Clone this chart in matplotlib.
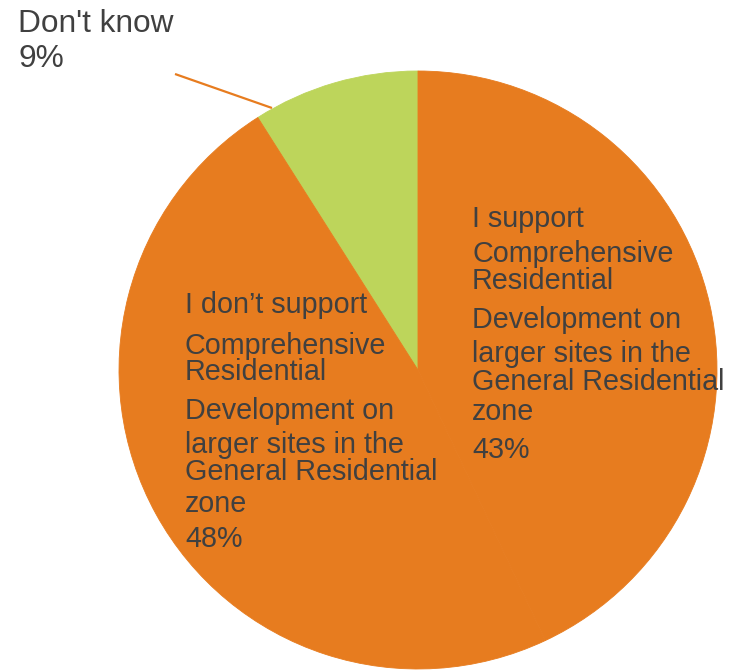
import matplotlib
matplotlib.use("Agg")
import matplotlib.pyplot as plt

plt.rcParams['font.family'] = ['Liberation Sans', 'DejaVu Sans']

# Survey answers (counter-clockwise from 12 o'clock)
categories = ["Don't know",
              "I don’t support Comprehensive Residential Development on larger sites in the General Residential zone",
              "I support Comprehensive Residential Development on larger sites in the General Residential zone"]
values = [9, 48, 43]
colors = ["#BDD55B", "#E77C1F", "#E77C1F"]

# Label text split into the lines as drawn
label_lines = {
    0: ["Don't know"],
    1: ["I don’t support", "Comprehensive", "Residential", "Development on",
        "larger sites in the", "General Residential", "zone"],
    2: ["I support", "Comprehensive", "Residential", "Development on",
        "larger sites in the", "General Residential", "zone"],
}

W, H = 734, 670
CX, CY, R = 418, 370, 299

fig = plt.figure(figsize=(W / 100, H / 100), dpi=100)
ax = fig.add_axes([(CX - R) / W, (H - CY - R) / H, 2 * R / W, 2 * R / H])

wedges, _ = ax.pie(values, colors=colors, startangle=90, counterclock=True,
                   radius=1)
for w, c in zip(wedges, colors):
    w.set_edgecolor(c)
    w.set_linewidth(0.6)
ax.set_xlim(-1, 1)
ax.set_ylim(-1, 1)
ax.set_aspect('equal')
ax.axis('off')


def px(x, y):
    """Pixel position (from top-left) to pie data coordinates."""
    return (x - CX) / R, (CY - y) / R


TXT = "#404040"
total = sum(values)


def pct(i):
    return f"{round(values[i] / total * 100):d}%"


# Right-hand label
right_base = [227, 262, 289, 328, 362, 390, 420, 458]
lines = label_lines[2] + [pct(2)]
for line, yb in zip(lines, right_base):
    x, y = px(472, yb)
    ax.text(x, y, line, color=TXT, fontsize=20.7, ha='left', va='baseline')

# Left-hand label
left_base = [313, 354, 380, 419, 453, 480, 512, 547]
lines = label_lines[1] + [pct(1)]
for line, yb in zip(lines, left_base):
    x, y = px(185, yb)
    ax.text(x, y, line, color=TXT, fontsize=20.7, ha='left', va='baseline')

# Outside label with leader line
out_base = [32, 67]
lines = label_lines[0] + [pct(0)]
for line, yb in zip(lines, out_base):
    x, y = px(18, yb)
    ax.text(x, y, line, color=TXT, fontsize=22.8, ha='left', va='baseline')

x0, y0 = px(175, 74)
x1, y1 = px(272, 108)
ax.plot([x0, x1], [y0, y1], color="#E77C1F", lw=1.6, clip_on=False,
        solid_capstyle='butt')

fig.savefig("out.png", dpi=100)
